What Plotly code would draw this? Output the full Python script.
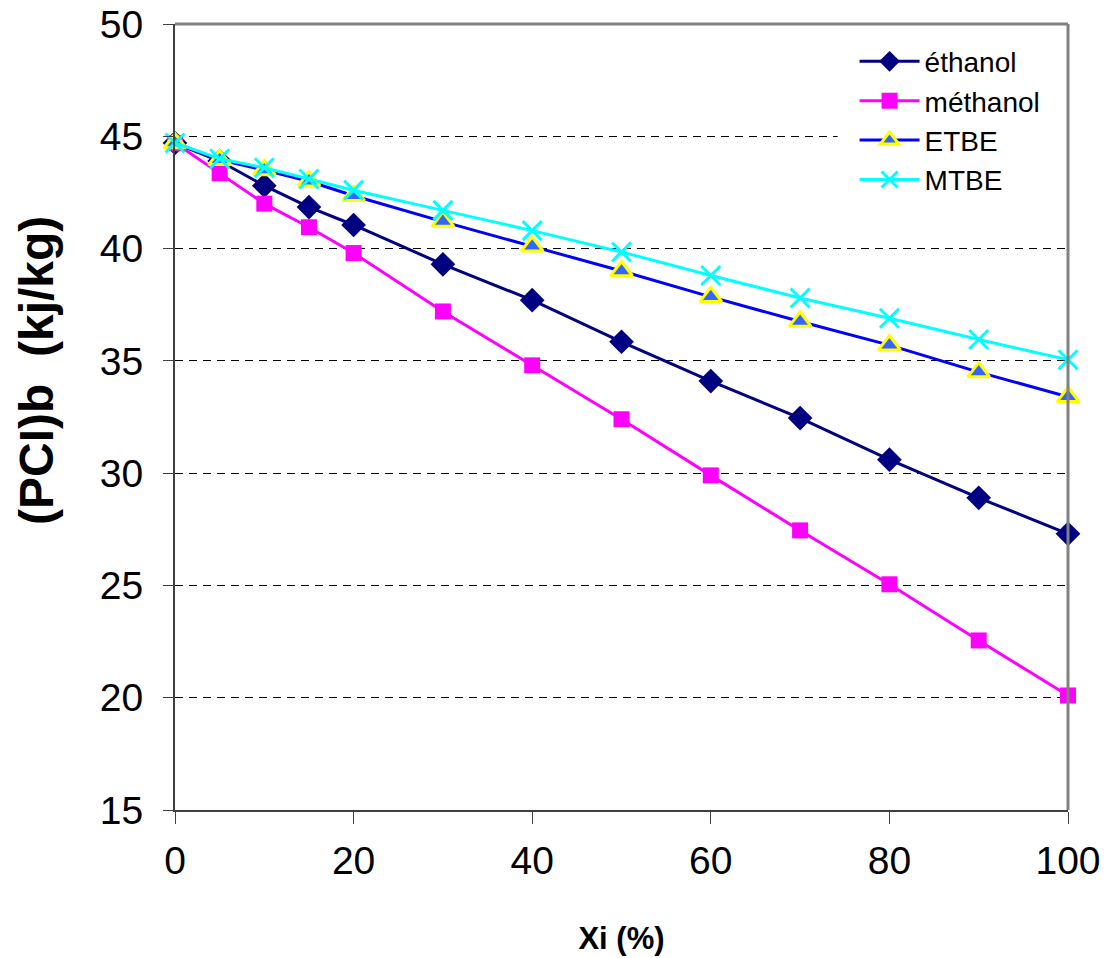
import plotly.graph_objects as go

# Data
xi = [0, 5, 10, 15, 20, 30, 40, 50, 60, 70, 80, 90, 100]
ethanol = [44.7, 43.9, 42.8, 41.85, 41.05, 39.3, 37.7, 35.85, 34.1, 32.45, 30.6, 28.9, 27.3]
methanol = [44.7, 43.35, 42.0, 40.95, 39.8, 37.2, 34.8, 32.4, 29.9, 27.45, 25.05, 22.55, 20.1]
etbe = [44.7, 43.95, 43.5, 43.0, 42.35, 41.2, 40.1, 39.0, 37.85, 36.75, 35.7, 34.5, 33.4]
mtbe = [44.7, 44.0, 43.6, 43.1, 42.6, 41.7, 40.8, 39.85, 38.8, 37.8, 36.9, 35.95, 35.05]
y_ticks = [15, 20, 25, 30, 35, 40, 45, 50]
x_ticks = [0, 20, 40, 60, 80, 100]

FONT = "Liberation Sans, Arial, sans-serif"

fig = go.Figure()
fig.add_trace(go.Scatter(
    x=xi, y=ethanol, name="éthanol", mode="lines+markers",
    line=dict(color="#000080", width=3),
    marker=dict(symbol="diamond", size=19, color="#000080"),
    cliponaxis=False))
fig.add_trace(go.Scatter(
    x=xi, y=methanol, name="méthanol", mode="lines+markers",
    line=dict(color="#FF00FF", width=3),
    marker=dict(symbol="square", size=16, color="#FF00FF"),
    cliponaxis=False))
fig.add_trace(go.Scatter(
    x=xi, y=etbe, name="ETBE", mode="lines+markers",
    line=dict(color="#0000FF", width=3),
    marker=dict(symbol="triangle-up", size=19, color="#3366FF",
                line=dict(color="#FFFF00", width=3)),
    cliponaxis=False))
fig.add_trace(go.Scatter(
    x=xi, y=mtbe, name="MTBE", mode="lines+markers",
    line=dict(color="#00FFFF", width=3),
    marker=dict(symbol="x-thin", size=19, color="#00FFFF",
                line=dict(color="#00FFFF", width=3)),
    cliponaxis=False))

# white panel behind legend (covers grid lines)
fig.add_shape(type="rect", xref="paper", yref="paper",
              x0=0.742, x1=0.997, y0=0.77, y1=0.997,
              fillcolor="white", line=dict(width=0), layer="above")
# gray top/right frame
fig.add_shape(type="line", xref="paper", yref="paper", x0=0, x1=1, y0=1, y1=1,
              line=dict(color="#808080", width=3), layer="above")
fig.add_shape(type="line", xref="paper", yref="paper", x0=1, x1=1, y0=0, y1=1,
              line=dict(color="#808080", width=3), layer="above")

# y-axis title (placed as in the reference, slightly above centre)
fig.add_annotation(
    text="<b>(PCI)b  (kj/kg)</b>", textangle=-90,
    xref="paper", yref="paper", x=0, y=0.5585, xanchor="center", yanchor="middle",
    xshift=-139, showarrow=False,
    font=dict(family=FONT, size=48, color="black"))

fig.update_layout(
    width=1106, height=958,
    margin=dict(l=175, r=38, t=24, b=148, autoexpand=False),
    paper_bgcolor="white", plot_bgcolor="white",
    font=dict(family=FONT, color="black"),
    showlegend=True,
    legend=dict(
        x=0.761, y=0.984, xanchor="left", yanchor="top",
        bgcolor="rgba(0,0,0,0)", borderwidth=0,
        font=dict(family=FONT, size=28, color="black"),
        itemwidth=60, tracegroupgap=0),
)
fig.update_xaxes(
    range=[0, 100], tickvals=x_ticks, ticktext=[str(v) for v in x_ticks],
    showgrid=False, zeroline=False, automargin=False, ticklabeloverflow="allow",
    showline=True, linecolor="#404040", linewidth=2,
    ticks="outside", ticklen=12, tickcolor="#404040", tickwidth=1,
    tickfont=dict(family=FONT, size=39), ticklabelstandoff=3,
    title=dict(text="<b>Xi (%)</b>", font=dict(family=FONT, size=31), standoff=47),
)
fig.update_yaxes(
    range=[15, 50], tickvals=y_ticks, ticktext=[str(v) for v in y_ticks],
    showgrid=True, gridcolor="black", gridwidth=1, griddash="8px,6px",
    zeroline=False, automargin=False, ticklabeloverflow="allow",
    showline=True, linecolor="#404040", linewidth=2,
    ticks="outside", ticklen=10, tickcolor="#404040", tickwidth=1,
    tickfont=dict(family=FONT, size=39), ticklabelstandoff=12,
)

# remove the browser's default 8px page margin so the figure fills the window
fig.write_html("out.html", config={"displayModeBar": False},
               post_script="document.body.style.margin='0';document.body.style.overflow='hidden';")
